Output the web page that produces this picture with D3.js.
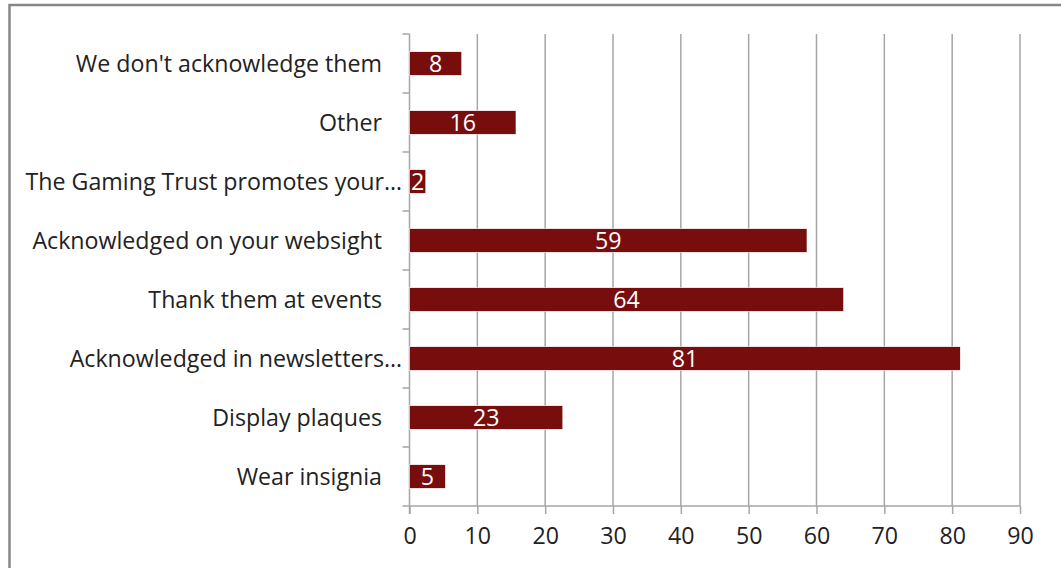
<!DOCTYPE html>
<html><head><meta charset="utf-8">
<script src="https://cdn.jsdelivr.net/npm/d3@7"></script>
<style>body{margin:0;background:#fff}svg{display:block}text{font-family:"Open Sans",Lato,sans-serif}</style>
</head><body>
<svg id="c" width="1061" height="568"></svg>
<script>
const categories = ["We don't acknowledge them","Other","The Gaming Trust promotes your…","Acknowledged on your websight","Thank them at events","Acknowledged in newsletters…","Display plaques","Wear insignia"];
const values = [7.7, 15.7, 2.4, 58.6, 64, 81.2, 22.6, 5.3];
const labels = ["8","16","2","59","64","81","23","5"];
const ticks = [0,10,20,30,40,50,60,70,80,90];

const svg = d3.select("#c");
const L = 409.5, R = 1020, T = 34, B = 506;
const FS = 23.2;
const x = d3.scaleLinear().domain([0,90]).range([L,R]);
const y = d3.scaleBand().domain(categories).range([T,B]).paddingInner(0.6).paddingOuter(0.3);

// border
svg.append("path").attr("d","M9.5,568 V5 H1061").attr("fill","none").attr("stroke","#878787").attr("stroke-width",2.5);

// gridlines
svg.append("g").selectAll("line").data(ticks.slice(1)).join("line")
  .attr("x1",d=>x(d)).attr("x2",d=>x(d)).attr("y1",T).attr("y2",B)
  .attr("stroke","#a6a6a6").attr("stroke-width",1.5);

// bottom axis
const gx = svg.append("g").attr("transform",`translate(0,${B})`)
  .call(d3.axisBottom(x).tickValues(ticks).tickSize(8).tickPadding(14));
gx.select(".domain").attr("stroke","#a6a6a6").attr("stroke-width",1.5).attr("d",`M${L},0H${R}`);
gx.selectAll(".tick line").attr("stroke","#a6a6a6").attr("stroke-width",1.5);
gx.selectAll(".tick text").attr("font-size",FS).attr("fill","#222").attr("font-family","'Open Sans',sans-serif");

// left axis
const bounds = d3.range(categories.length+1).map(i => T + i*(B-T)/categories.length);
svg.append("line").attr("x1",L).attr("x2",L).attr("y1",T).attr("y2",B+8).attr("stroke","#a6a6a6").attr("stroke-width",1.5);
svg.append("g").selectAll("line").data(bounds).join("line")
  .attr("x1",L-7).attr("x2",L).attr("y1",d=>d).attr("y2",d=>d).attr("stroke","#a6a6a6").attr("stroke-width",1.5);

// bars
svg.append("g").selectAll("rect").data(categories).join("rect")
  .attr("x",L).attr("y",d=>y(d)).attr("width",(d,i)=>x(values[i])-L).attr("height",y.bandwidth())
  .attr("fill","#780d0e").attr("stroke","#fff").attr("stroke-width",0.6);

// value labels
svg.append("g").selectAll("text").data(categories).join("text")
  .attr("x",(d,i)=>(L+x(values[i]))/2).attr("y",d=>y(d)+y.bandwidth()/2).attr("dy","0.36em")
  .attr("text-anchor","middle").attr("font-size",FS).attr("fill","#fff").text((d,i)=>labels[i]);

// category labels
svg.append("g").selectAll("text").data(categories).join("text")
  .attr("x",d=>d.endsWith("…")?402:382).attr("y",d=>y(d)+y.bandwidth()/2).attr("dy","0.36em")
  .attr("text-anchor","end").attr("font-size",FS).attr("fill","#222").text(d=>d);
</script>
</body></html>
